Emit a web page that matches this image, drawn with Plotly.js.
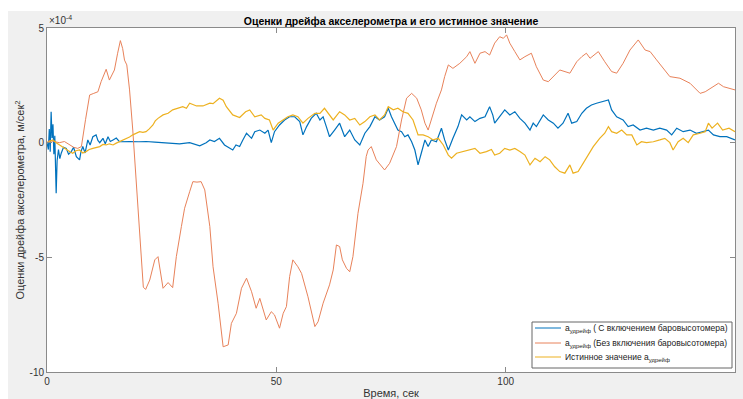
<!DOCTYPE html>
<html>
<head>
<meta charset="utf-8">
<script src="https://cdn.plot.ly/plotly-3.0.1.min.js"></script>
<style>html,body{margin:0;padding:0;background:#fff;}#chart{width:743px;height:399px;}</style>
</head>
<body>
<div id="chart"></div>
<script>
// values are in units of 1e-4 m/s^2 (axis shows ×10^-4)
var tBaro = [0,0.3,0.5,0.7,0.9,1.1,1.3,1.5,1.7,2.0,2.2,2.5,2.8,3.1,3.6,4.2,4.7,5.3,5.8,6.4,7.1,7.4,7.8,8.3,8.9,9.4,10.0,10.7,11.1,11.5,12.2,12.7,13.3,13.8,14.4,15.1,15.8,17,18,20,21.6,23.5,25.3,27,28.9,31.1,32.2,33.3,34.7,35.5,36.5,37.6,38.7,39.5,40.5,41.2,42.0,42.7,43.5,44.6,45.3,46.4,47.5,48.2,48.9,49.6,50.7,51.8,52.9,54.0,55.1,55.8,56.6,57.6,58.7,59.5,60.2,60.9,61.6,62.7,63.8,64.9,66.0,67.1,68.2,69.3,70.4,71.5,72.5,73.6,74.4,75.1,75.8,76.5,77.3,78.0,78.7,79.5,80.2,80.9,81.6,82.4,83.1,83.8,84.9,86.0,86.7,87.5,88.5,89.6,90.4,91.5,92.2,93.3,94.4,95.5,96.5,97.2,97.6,98.7,99.8,100.9,102.0,103.1,104.2,105.3,106.0,106.7,108.2,109.3,110.4,111.4,112.5,113.6,114.4,115.5,116.6,117.6,118.7,119.8,121.3,122.4,123.1,124.2,125.6,126.7,127.8,129.3,130.7,132.2,133.6,135.1,136.2,137.3,138.7,140.2,141.6,143.1,144.2,145.3,146.7,148.2,150];
var vBaro = [0,-0.3,0.6,-0.4,1.35,0.2,0.8,-0.5,0.3,-2.2,-0.8,-0.3,-0.7,-0.46,-0.2,-0.25,-0.5,-0.39,-0.2,-0.61,-0.75,-0.4,-0.17,-0.45,0.12,-0.1,0.26,0.34,0.1,0,0.19,-0.05,0.26,0.05,0.12,0.2,0.04,0.03,0.05,0.04,0.05,0.02,0.0,-0.02,-0.05,0,-0.08,-0.14,0,0.12,0.05,0.19,-0.1,-0.2,-0.32,-0.1,-0.17,0.12,0.41,0.19,0.48,0.55,0.41,0.55,0,0.48,0.77,0.99,1.13,1.13,0.92,0.34,0.7,1.06,1.28,0.99,1.13,0.7,0.26,0.55,0.85,0.26,0.55,0.12,-0.1,0.41,0.7,1.13,0.99,1.13,1.5,1.13,0.85,0.55,0.48,0.26,0.34,0.04,-0.32,-0.97,-0.46,0.12,-0.17,0.12,0.04,0.63,0.12,-0.32,0.19,0.7,1.21,0.99,1.13,0.92,1.06,1.13,1.57,1.2,0.85,1.13,1.43,1.21,1.35,1.06,0.85,0.55,0.85,0.7,1.21,0.99,0.85,0.63,0.85,1.28,0.85,0.92,1.28,1.5,1.64,1.72,1.79,1.86,1.43,1.13,0.99,0.70,0.77,0.55,0.63,0.55,0.63,0.55,0.34,0.63,0.48,0.55,0.41,0.48,0.55,0.34,0.26,0.26,0.12];

var tNoBaro = [0,0.5,1.5,2.7,3.8,4.9,5.8,6.7,7.5,8.4,9.3,10.2,11.1,11.8,12.9,13.6,14.7,15.4,16.0,16.5,16.9,17.4,18.0,18.7,19.5,20.3,21.0,21.5,22.4,23.5,24.2,25.3,26.4,27.4,28.2,29.3,30.0,31.1,31.8,32.7,33.6,34.4,35.5,36.2,37.3,38.4,39.5,40.2,41.3,42.4,43.5,44.6,45.6,46.4,47.8,48.9,49.6,50.7,51.5,52.2,52.9,53.6,54.7,55.5,56.9,58.4,59.1,60.2,61.6,62.4,63.1,63.8,64.4,65.3,66.0,66.7,67.8,68.9,69.6,70.0,70.7,71.8,72.9,73.6,74.7,76.2,77.3,78.4,79.5,80.6,81.6,82.4,83.1,83.8,84.9,86.0,86.7,87.5,88.5,90.0,91.5,92.2,93.3,94.4,95.5,96.5,97.6,98.7,99.5,100.2,100.9,102.0,103.1,104.2,105.6,106.7,108.2,109.3,110.7,111.8,114.0,115.5,116.6,117.6,118.4,120.2,121.6,123.1,124.2,125.6,127.1,128.9,130.4,131.5,132.9,134.4,135.8,138.0,140.2,142.4,143.5,146.4,147.5,150];
var vNoBaro = [0,0.1,0.05,0,0.05,-0.1,-0.2,-0.25,-0.17,1.0,2.08,2.15,2.22,2.66,3.2,2.73,3.17,3.9,4.45,4.1,3.6,3.39,2.3,0.55,-1.92,-4.5,-6.3,-6.4,-5.99,-5.11,-4.97,-6.35,-6.1,-6.32,-4.97,-3.66,-2.86,-2.14,-1.70,-1.72,-1.70,-2.06,-3.66,-5.41,-7.0,-8.9,-8.82,-7.88,-7.44,-6.35,-5.91,-6.5,-7.22,-6.79,-7.73,-7.37,-7.51,-8.09,-7.44,-7.15,-5.84,-5.11,-5.41,-5.70,-6.72,-8.02,-7.81,-7.0,-6.2,-5.55,-4.46,-4.53,-5.11,-5.48,-5.63,-4.97,-3.08,-1.77,-0.6,-0.32,-0.17,-0.75,-1.05,-1.19,-0.9,-0.17,0.99,1.94,2.15,1.94,1.43,0.85,0.55,0.99,1.72,2.3,2.88,3.39,3.24,3.46,3.75,3.97,3.46,3.9,3.97,3.82,4.34,4.62,4.55,4.7,4.34,3.97,3.61,3.75,3.9,3.31,2.73,2.66,2.95,3.17,3.03,3.53,3.75,3.9,3.68,3.97,3.53,3.1,3.03,3.46,4.04,4.48,4.04,3.97,3.61,3.24,2.88,2.81,2.59,2.15,2.22,2.59,2.44,2.30];

var tTrue = [0,0.5,1.3,2.0,2.7,3.5,4.2,5.0,5.6,6.3,7.1,7.8,8.5,9.2,10.0,10.8,11.5,12.2,12.9,13.6,14.4,15.1,15.8,16.5,17.3,18.0,18.7,19.5,20.2,20.9,21.6,22.3,23.1,23.6,24.2,25.3,26.4,27.4,28.5,29.6,30.4,31.1,32.6,34.0,35.5,36.2,37.6,38.4,39.1,40.5,42.0,43.3,44.2,45.3,46.7,47.5,48.5,49.3,50.4,51.5,52.5,53.6,54.7,55.8,56.9,58.4,59.5,60.5,61.3,62.4,63.8,64.9,66.0,67.1,68.2,69.3,70.4,71.5,72.5,73.6,74.4,75.5,76.5,77.6,78.7,79.8,80.9,82.0,83.1,84.2,85.3,86.4,87.5,88.2,89.3,90.7,92.2,93.3,94.4,95.8,96.9,97.6,98.7,99.8,100.9,102.0,103.1,104.2,105.3,106.4,107.5,108.6,109.6,110.7,111.8,112.9,114.0,114.7,115.8,116.9,118.0,119.1,120.5,121.6,122.4,123.1,124.2,125.3,126.4,127.5,128.6,129.6,130.7,132.2,133.6,134.7,135.8,136.5,137.6,138.7,139.8,140.9,142.4,143.5,144.2,145.0,146.2,147.3,148.7,150];
var vTrue = [0,0.05,0.12,0.0,-0.1,-0.2,-0.32,-0.4,-0.46,-0.35,-0.32,-0.45,-0.39,-0.3,-0.25,-0.2,-0.17,-0.08,-0.1,-0.05,-0.1,-0.02,0.04,0.1,0.19,0.25,0.34,0.4,0.48,0.45,0.48,0.6,0.77,0.95,1.06,1.21,1.28,1.43,1.5,1.57,1.5,1.72,1.6,1.6,1.72,1.7,1.94,1.85,1.57,1.21,1.1,1.35,1.43,1.13,1.21,1.06,0.99,0.55,0.85,0.99,1.13,1.21,1.13,0.85,1.06,1.28,1.28,1.5,1.28,0.99,1.35,1.21,0.99,1.06,0.77,0.92,1.13,1.21,0.99,1.21,1.57,1.43,1.5,1.35,1.28,0.99,0.34,0.34,0.26,0.12,0.19,-0.1,-0.54,-0.68,-0.46,-0.39,-0.32,-0.25,-0.46,-0.39,-0.3,-0.54,-0.46,-0.25,-0.32,-0.25,-0.39,-0.54,-0.97,-0.68,-0.83,-0.61,-0.75,-1.05,-1.26,-1.33,-0.97,-1.33,-1.26,-0.9,-0.54,-0.17,0.19,0.41,0.7,0.48,0.41,0.55,0.34,0.34,-0.1,0.04,0,0.04,0.12,0.19,0,-0.32,0.04,0.19,0,0.34,0.41,0.48,0.85,0.63,0.85,0.55,0.63,0.48];

var seriesNames = [
  "a<sub>удрейф</sub> ( С включением баровысотомера)",
  "a<sub>удрейф</sub> (Без включения баровысотомера)",
  "Истинное значение a<sub>удрейф</sub>"
];
var seriesColors = ["#0072BD", "#E8825A", "#EDB120"];
var xTickVals = [0,50,100,150];
var xTickText = ["0","50","100","150"];
var yTickVals = [-10,-5,0,5];
var yTickText = ["-10","-5","0","5"];

var FONT = "Liberation Sans, Arial, sans-serif";
var traces = [
  {x:tBaro, y:vBaro, name:seriesNames[0], type:"scatter", mode:"lines", line:{color:seriesColors[0], width:1.2}},
  {x:tNoBaro, y:vNoBaro, name:seriesNames[1], type:"scatter", mode:"lines", line:{color:seriesColors[1], width:1}},
  {x:tTrue, y:vTrue, name:seriesNames[2], type:"scatter", mode:"lines", line:{color:seriesColors[2], width:1.2}}
];

// pixel -> paper helpers (plot area: x 47..735, y 28..372)
function px(x){ return (x-47)/688; }
function py(y){ return (372-y)/344; }

var axisCommon = {
  showgrid:false, zeroline:false, showline:true, linecolor:"#8a8a8a", linewidth:1,
  mirror:"ticks", ticks:"inside", ticklen:5, tickcolor:"#8a8a8a",
  tickfont:{family:FONT, size:10, color:"#333"}
};

var shapes = [
  {type:"rect", xref:"paper", yref:"paper", x0:px(-10), x1:px(8), y0:-0.1, y1:1.1, fillcolor:"#ffffff", line:{width:0}, layer:"below"},
  {type:"rect", xref:"paper", yref:"paper", x0:px(-10), x1:1.02, y0:py(11), y1:1.1, fillcolor:"#ffffff", line:{width:0}, layer:"below"},
  // legend box
  {type:"rect", xref:"paper", yref:"paper", x0:px(532), x1:px(732), y0:py(368), y1:py(322), fillcolor:"#ffffff", line:{color:"#666", width:1}, layer:"above"}
];
var legendRowsY = [328, 343, 357];
var annotations = [
  {text:"×10<sup>-4</sup>", xref:"paper", yref:"paper", x:0, y:1, xanchor:"left", yanchor:"bottom", showarrow:false,
   font:{family:FONT, size:10, color:"#333"}}
];
for (var i=0;i<3;i++){
  shapes.push({type:"line", xref:"paper", yref:"paper", x0:px(535), x1:px(561), y0:py(legendRowsY[i]), y1:py(legendRowsY[i]),
               line:{color:seriesColors[i], width:1}, layer:"above"});
  annotations.push({text:seriesNames[i], xref:"paper", yref:"paper", x:px(563), y:py(legendRowsY[i]+ (i==2?0:0)),
               xanchor:"left", yanchor:"middle", showarrow:false, font:{family:FONT, size:8.5, color:"#222"}});
}

var layout = {
  width:743, height:399,
  margin:{l:47, r:8, t:28, b:27},
  paper_bgcolor:"#f0f0f0", plot_bgcolor:"#ffffff",
  showlegend:false,
  title:{text:"<b>Оценки дрейфа акселерометра и его истинное значение</b>", font:{family:FONT, size:10.5, color:"#000"},
         x:0.5, xref:"paper", y:1-21/399, yref:"container", yanchor:"middle"},
  xaxis:Object.assign({}, axisCommon, {range:[0,150], tickvals:xTickVals, ticktext:xTickText,
         title:{text:"Время, сек", font:{family:FONT, size:11, color:"#333"}, standoff:3}}),
  yaxis:Object.assign({}, axisCommon, {range:[-10,5], tickvals:yTickVals, ticktext:yTickText,
         title:{text:"Оценки дрейфа акселерометра, м/сек<sup>2</sup>", font:{family:FONT, size:11, color:"#333"}, standoff:2}}),
  annotations:annotations,
  shapes:shapes
};
Plotly.newPlot("chart", traces, layout, {displayModeBar:false, staticPlot:true});
</script>
</body>
</html>
